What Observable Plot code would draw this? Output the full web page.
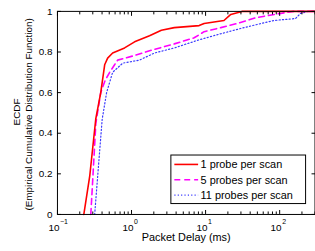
<!DOCTYPE html>
<html><head><meta charset="utf-8">
<script src="https://cdn.jsdelivr.net/npm/d3@7"></script>
<script src="https://cdn.jsdelivr.net/npm/@observablehq/plot@0.6"></script>
<style>
html,body{margin:0;padding:0;background:#fff;overflow:hidden;}
#chart{position:relative;width:315px;height:251px;overflow:hidden;}
</style></head><body><div id="chart"></div>
<script>
// ---- data ----
const seriesNames = ["1 probe per scan", "5 probes per scan", "11 probes per scan"];
const oneProbeDelay = [0.227, 0.273, 0.329, 0.384, 0.434, 0.476, 0.556, 0.806, 1.10, 1.75, 2.53, 3.78, 8.18, 9.55, 17.7, 21.9, 30.9, 300];
const oneProbeEcdf  = [0, 0.19, 0.47, 0.60, 0.737, 0.77, 0.795, 0.82, 0.85, 0.88, 0.907, 0.92, 0.93, 0.94, 0.955, 0.985, 1.0, 1.0];
const fiveProbesDelay = [0.282, 0.33, 0.384, 0.44, 0.507, 0.649, 1.03, 1.91, 3.78, 7.01, 9.55, 16.1, 26.5, 49.1, 103, 154, 300];
const fiveProbesEcdf  = [0, 0.45, 0.60, 0.66, 0.70, 0.76, 0.78, 0.81, 0.84, 0.87, 0.90, 0.92, 0.94, 0.97, 0.99, 1.0, 1.0];
const elevenProbesDelay = [0.318, 0.36, 0.402, 0.461, 0.556, 0.76, 1.28, 2.04, 3.78, 8.18, 16.1, 32.9, 83, 164, 191, 245, 300];
const elevenProbesEcdf  = [0, 0.25, 0.47, 0.60, 0.70, 0.745, 0.76, 0.795, 0.82, 0.86, 0.89, 0.92, 0.955, 0.965, 0.99, 1.0, 1.0];

const xMajorTicks = [0.1, 1, 10, 100];
const xTickExponents = ["\u22121", "0", "1", "2"];
const xMinorTicks = [0.2,0.3,0.4,0.5,0.6,0.7,0.8,0.9,2,3,4,5,6,7,8,9,20,30,40,50,60,70,80,90,200,300];
const yTicks = [0, 0.2, 0.4, 0.6, 0.8, 1];
const yTickLabels = ["0", "0.2", "0.4", "0.6", "0.8", "1"];
const xLabel = "Packet Delay (ms)";
const yLabelLines = ["ECDF", "(Empirical Cumulative Distribution Function)"];

const toRows = (xs, ys) => xs.map((x, i) => ({x, y: ys[i]}));
const oneRows = toRows(oneProbeDelay, oneProbeEcdf);
const fiveRows = toRows(fiveProbesDelay, fiveProbesEcdf);
const elevenRows = toRows(elevenProbesDelay, elevenProbesEcdf);

const font = "'Liberation Sans', Arial, Helvetica, sans-serif";
const blank = () => "";
const blueDot = "#3a3aff";

const plot = Plot.plot({
  width: 318, height: 251,
  marginLeft: 57.5, marginRight: 0.5, marginTop: 11, marginBottom: 35,
  style: {fontFamily: font, fontSize: "10px", background: "white", color: "black", overflow: "visible"},
  x: {type: "log", domain: [0.1, 300]},
  y: {domain: [0, 1]},
  marks: [
    Plot.line(elevenRows, {x: "x", y: "y", stroke: blueDot, strokeWidth: 1.2, strokeDasharray: "1.2,2.2"}),
    Plot.line(fiveRows, {x: "x", y: "y", stroke: "#ff00ff", strokeWidth: 1.6, strokeDasharray: "6,4"}),
    Plot.line(oneRows, {x: "x", y: "y", stroke: "#ff0000", strokeWidth: 1.6}),
    Plot.frame({stroke: "black", strokeWidth: 1}),
    // inward ticks
    Plot.axisX({anchor: "bottom", ticks: xMajorTicks, tickSize: -4, tickFormat: blank, label: null}),
    Plot.axisX({anchor: "top", ticks: xMajorTicks, tickSize: -4, tickFormat: blank, label: null}),
    Plot.axisX({anchor: "bottom", ticks: xMinorTicks, tickSize: -2.5, tickFormat: blank, label: null}),
    Plot.axisX({anchor: "top", ticks: xMinorTicks, tickSize: -2.5, tickFormat: blank, label: null}),
    Plot.axisY({anchor: "left", ticks: yTicks, tickSize: -4, tickFormat: blank, label: null}),
    Plot.axisY({anchor: "right", ticks: yTicks, tickSize: -4, tickFormat: blank, label: null}),
    // tick labels
    Plot.axisY({anchor: "left", ticks: yTicks, tickSize: 0, tickPadding: 5, tickFormat: (d, i) => yTickLabels[i], label: null}),
    Plot.text(xMajorTicks, {x: d => d, text: () => "10", frameAnchor: "bottom", lineAnchor: "middle", dy: 13, dx: 2, textAnchor: "end", fontSize: 10}),
    Plot.text(xMajorTicks, {x: d => d, text: (d, i) => xTickExponents[i], frameAnchor: "bottom", lineAnchor: "middle", dy: 7.5, dx: 2.5, textAnchor: "start", fontSize: 7}),
    // axis titles
    Plot.text([xLabel], {text: d => d, frameAnchor: "bottom", lineAnchor: "middle", textAnchor: "middle", dy: 23.5, fontSize: 11}),
    Plot.text([yLabelLines[0]], {text: d => d, frameAnchor: "left", lineAnchor: "middle", textAnchor: "middle", dx: -41.5, dy: -1, rotate: -90, fontSize: 10}),
    Plot.text([yLabelLines[1]], {text: d => d, frameAnchor: "left", lineAnchor: "middle", textAnchor: "middle", dx: -29, dy: 1.5, rotate: -90, fontSize: 10})
  ]
});
document.getElementById("chart").appendChild(plot);

// legend box
const svg = d3.select(plot);
const lg = svg.append("g").attr("font-family", font).attr("font-size", 11).attr("text-anchor", "start");
lg.append("rect").attr("x", 172.5).attr("y", 156.5).attr("width", 136).attr("height", 49)
  .attr("fill", "white").attr("stroke", "black").attr("stroke-width", 1);
const legendStyles = [
  {stroke: "#ff0000", dash: null, w: 1.6},
  {stroke: "#ff00ff", dash: "6,4", w: 1.6},
  {stroke: blueDot, dash: "1.2,2.2", w: 1.2}
];
seriesNames.forEach((name, i) => {
  const y = 166 + i * 15.5;
  const l = lg.append("line").attr("x1", 176).attr("x2", 200).attr("y1", y).attr("y2", y)
    .attr("stroke", legendStyles[i].stroke).attr("stroke-width", legendStyles[i].w);
  if (legendStyles[i].dash) l.attr("stroke-dasharray", legendStyles[i].dash);
  lg.append("text").attr("x", 202.5).attr("y", y).attr("dy", "0.35em").attr("fill", "black").text(name);
});
</script>
</body></html>
